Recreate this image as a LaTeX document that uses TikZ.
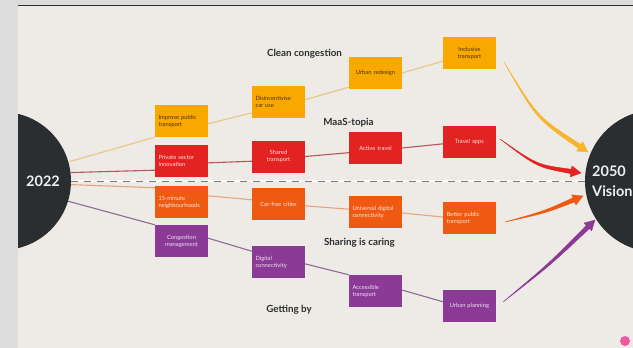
\documentclass[tikz,border=0pt]{standalone}
\usepackage{fontspec}
\setmainfont{Lato}
\usetikzlibrary{calc}
\definecolor{slidebg}{HTML}{EEEBE6}
\definecolor{margin}{HTML}{DCDCDC}
\definecolor{hubdark}{HTML}{2B2E30}
\definecolor{yel}{HTML}{F9A800}
\definecolor{redd}{HTML}{E32322}
\definecolor{ora}{HTML}{EE5A12}
\definecolor{pur}{HTML}{8B3A96}
\definecolor{yelpale}{HTML}{E9C987}
\definecolor{redpale}{HTML}{B5575F}
\definecolor{orapale}{HTML}{E8A27E}
\definecolor{purpale}{HTML}{8A6C94}
\tikzset{
	stepbox/.style={minimum width=53pt,minimum height=32pt,inner sep=1pt,text width=46pt,font=\fontsize{5.8}{7}\selectfont},
	yelbox/.style={stepbox,fill=yel,text=black!70!yel},
	redbox/.style={stepbox,fill=redd,text=white!85!redd},
	orabox/.style={stepbox,fill=ora,text=white!85!ora},
	purbox/.style={stepbox,fill=pur,text=white!85!pur},
	hub/.style={circle,fill=hubdark,inner sep=0pt},
	hubtext/.style={text=white!92!hubdark,font=\fontsize{14.5}{20}\selectfont\bfseries,inner sep=0pt,align=left},
	title/.style={text=hubdark,font=\fontsize{9.8}{11}\selectfont\bfseries,inner sep=0pt},
	yelline/.style={draw=yelpale,line width=1.2pt},
	redline/.style={draw=redpale,line width=1.1pt},
	oraline/.style={draw=orapale,line width=1.1pt},
	purline/.style={draw=purpale,line width=1.1pt}
}
% thin at the start, thick at the head
\newcommand{\taperarrow}[4]{%
	\coordinate (neck) at ($(#4)!10pt!(#3)$);
	\fill[#1,draw=#1,line width=.4pt] (#2) .. controls ($(#3)!1.2pt!90:(#4)$) .. ($(neck)!2.2pt!90:(#4)$)
		-- ($(neck)!5.5pt!90:(#4)$) -- (#4) -- ($(neck)!5.5pt!-90:(#4)$)
		-- ($(neck)!2.2pt!-90:(#4)$) .. controls ($(#3)!1.2pt!-90:(#4)$) .. (#2) -- cycle;
}
\begin{document}
\begin{tikzpicture}[x=1pt,y=-1pt,line join=round]
	\useasboundingbox (0,0) rectangle (633,348);
	\fill[margin] (0,0) rectangle (633,348);
	\fill[slidebg] (18,6) rectangle (633,348);
	\draw[line width=1.2pt,hubdark] (18,5.5)--(633,5.5);
	\begin{scope}
		\clip (18,6) rectangle (633,348);
		\node[hub,minimum size=138pt] (start) at (2,181) {};
		\node[hub,minimum size=142pt] (vision) at (656,181) {};
	\end{scope}
	\node[hubtext,anchor=west] (startlabel) at (26,181) {2022};
	\node[hubtext,anchor=west] (visionlabel) at (592,181) {2050\\Vision};
	%titles
	\node[title] (cleanlabel) at (304.5,54) {Clean congestion};
	\node[title] (maaslabel) at (348.5,122.5) {MaaS-topia};
	\node[title] (sharinglabel) at (359.5,243) {Sharing is caring};
	\node[title] (gettinglabel) at (289,309.5) {Getting by};
	%boxes
	\node[yelbox,align=left] (improve) at (181.5,121) {Improve public\\transport};
	\node[yelbox,align=left] (discourage) at (278.5,102) {Disincentivise\\car use};
	\node[yelbox,align=center] (redesign) at (375.5,73) {Urban redesign};
	\node[yelbox,align=center] (inclusive) at (469.5,53) {Inclusive\\transport};
	\node[redbox,align=left] (private) at (181.5,161) {Private sector\\innovation};
	\node[redbox,align=center] (shared) at (278.5,156.5) {Shared\\transport};
	\node[redbox,align=center] (active) at (375.5,148) {Active travel};
	\node[redbox,align=center] (apps) at (469.5,142) {Travel apps};
	\node[orabox,align=left] (minute) at (181.5,202) {15-minute\\neighbourhoods};
	\node[orabox,align=center] (carfree) at (278.5,204) {Car-free cities};
	\node[orabox,align=left] (universal) at (375.5,212) {Universal digital\\connectivity};
	\node[orabox,align=left] (better) at (469.5,218) {Better public\\transport};
	\node[purbox,align=center] (congestion) at (181.5,241) {Congestion\\management};
	\node[purbox,align=left] (digital) at (278.5,262) {Digital\\connectivity};
	\node[purbox,align=left] (accessible) at (375.5,291) {Accessible\\transport};
	\node[purbox,align=center] (planning) at (469.5,305.5) {Urban planning};
	%dashed middle
	\draw[white!70!slidebg,line width=1.4pt] (start.east)--(vision.west);
	\draw[hubdark!60!slidebg,line width=1pt,dash pattern=on 7pt off 6pt] (start.east)--(vision.west);
	%links
	\draw[yelline] (start.16)--(improve.south west);
	\draw[yelline] (improve.-6)--(discourage.202);
	\draw[yelline] (discourage.5)--(redesign.208);
	\draw[yelline] (redesign.east)--(inclusive.197);
	\draw[redline] (start.7)--(private.199);
	\draw[redline] (private.-4)--(shared.190);
	\draw[redline] (shared.east)--(active.190);
	\draw[redline] (active.east)--(apps.184);
	\draw[oraline] (start.-3)--(minute.152);
	\draw[oraline] (minute.13)--(carfree.171);
	\draw[oraline] (carfree.-4)--(universal.174);
	\draw[oraline] (universal.-2)--(better.178);
	\draw[purline] (start.-17)--(congestion.north west);
	\draw[purline] (congestion.6)--(digital.158);
	\draw[purline] (digital.-4)--(accessible.north west);
	\draw[purline] (accessible.2)--(planning.172);
	%big arrows
	\coordinate (yelfrom) at (504,62);
	\coordinate (yelbend) at (537,118);
	\coordinate (yelto) at (588,152);
	\coordinate (redfrom) at (500,139);
	\coordinate (redbend) at (537,166);
	\coordinate (redto) at (581,173);
	\coordinate (orafrom) at (505,222);
	\coordinate (orabend) at (545,212);
	\coordinate (orato) at (583,196);
	\coordinate (purfrom) at (503,302);
	\coordinate (purbend) at (550,264);
	\coordinate (purto) at (595,220);
	\taperarrow{yel!80!slidebg}{yelfrom}{yelbend}{yelto}
	\taperarrow{redd}{redfrom}{redbend}{redto}
	\taperarrow{ora}{orafrom}{orabend}{orato}
	\taperarrow{pur}{purfrom}{purbend}{purto}
	\fill[magenta!55!pink] (625,341) circle (5) node (logo) {};
\end{tikzpicture}
\end{document}
